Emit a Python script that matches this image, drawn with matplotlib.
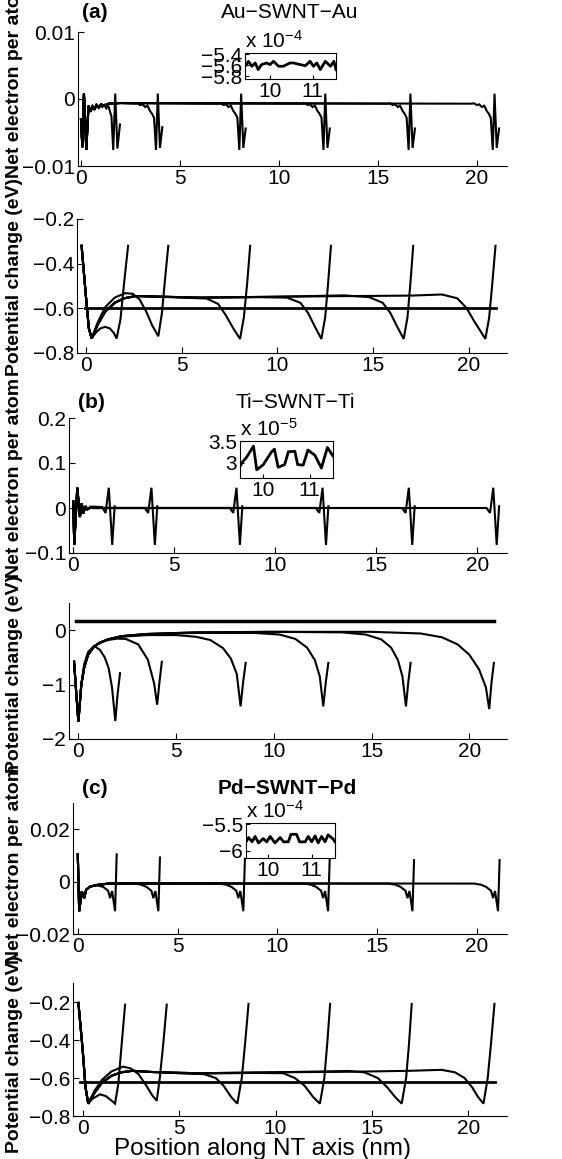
import matplotlib
matplotlib.use('Agg')
import matplotlib.pyplot as plt

plt.rcParams['font.family'] = ['Liberation Sans', 'DejaVu Sans']
plt.rcParams['mathtext.fontset'] = 'custom'
plt.rcParams['mathtext.rm'] = 'Liberation Sans'
plt.rcParams['mathtext.it'] = 'Liberation Sans'
plt.rcParams['axes.unicode_minus'] = True

# ---------------- DATA ----------------
XTICKS = [0, 5, 10, 15, 20]
XTICKLABELS = ['0', '5', '10', '15', '20']

# (a) Au net electron per atom (units 1e-3)
au_net_x = [
    [0.00,0.07,0.15,0.27,0.38,0.48,0.58,0.68,0.78,0.88,0.98,1.08,1.18,1.28,1.38,1.46,1.54,1.63,1.73,1.84,1.97],
    [0.00,0.07,0.15,0.27,0.38,0.48,0.58,0.68,0.78,0.90,1.02,1.15,1.40,2.00,2.69,2.84,2.99,3.11,3.24,3.36,3.49,3.59,3.69,3.79,3.88,3.99,4.11],
    [0.00,0.07,0.15,0.27,0.38,0.48,0.58,0.68,0.78,0.90,1.02,1.15,1.40,2.00,6.90,7.05,7.20,7.32,7.45,7.57,7.70,7.80,7.90,8.00,8.09,8.20,8.32],
    [0.00,0.07,0.15,0.27,0.38,0.48,0.58,0.68,0.78,0.90,1.02,1.15,1.40,2.00,11.15,11.30,11.45,11.57,11.70,11.82,11.95,12.05,12.15,12.25,12.34,12.45,12.57],
    [0.00,0.07,0.15,0.27,0.38,0.48,0.58,0.68,0.78,0.90,1.02,1.15,1.40,2.00,15.45,15.60,15.75,15.87,16.00,16.12,16.25,16.35,16.45,16.55,16.64,16.75,16.87],
    [0.00,0.07,0.15,0.27,0.38,0.48,0.58,0.68,0.78,0.90,1.02,1.15,1.40,2.00,19.70,19.85,20.00,20.12,20.25,20.37,20.50,20.60,20.70,20.80,20.89,21.00,21.12],
]
au_net_y = [
    [-3.0,-7.2,0.8,-7.6,-1.1,-1.7,-1.0,-1.4,-0.9,-1.2,-0.9,-1.2,-0.9,-1.4,-1.0,-1.8,-2.6,-7.6,0.8,-7.4,-3.8],
    [-3.0,-7.2,0.8,-7.6,-1.0,-1.9,-1.1,-1.6,-0.9,-1.3,-0.8,-1.0,-0.7,-0.6,-0.7,-0.65,-0.9,-0.8,-1.2,-1.0,-1.8,-2.2,-2.8,-7.6,0.8,-7.3,-4.2],
    [-3.0,-7.2,0.8,-7.6,-1.0,-1.9,-1.1,-1.6,-0.9,-1.3,-0.8,-1.0,-0.7,-0.6,-0.7,-0.65,-0.9,-0.8,-1.2,-1.0,-1.8,-2.2,-2.8,-7.6,0.8,-7.3,-4.4],
    [-3.0,-7.2,0.8,-7.6,-1.0,-1.9,-1.1,-1.6,-0.9,-1.3,-0.8,-1.0,-0.7,-0.6,-0.7,-0.65,-0.9,-0.8,-1.2,-1.0,-1.8,-2.2,-2.8,-7.6,0.8,-7.3,-4.4],
    [-3.0,-7.2,0.8,-7.6,-1.0,-1.9,-1.1,-1.6,-0.9,-1.3,-0.8,-1.0,-0.7,-0.6,-0.7,-0.65,-0.9,-0.8,-1.2,-1.0,-1.8,-2.2,-2.8,-7.6,0.8,-7.3,-4.4],
    [-3.0,-7.2,0.8,-7.6,-1.0,-1.9,-1.1,-1.6,-0.9,-1.3,-0.8,-1.0,-0.7,-0.6,-0.7,-0.65,-0.9,-0.8,-1.2,-1.0,-1.8,-2.2,-2.8,-7.6,0.8,-7.3,-4.4],
]
au_net_yticks = [-0.01, 0, 0.01]
au_net_yticklabels = ['\u22120.01', '0', '0.01']

# (a) Au potential change (eV)
au_pot_x = [
    [-0.23,0.0,0.15,0.3,0.5,0.75,1.0,1.25,1.45,1.6,1.8,2.0,2.2],
    [-0.23,0.0,0.15,0.3,0.6,1.0,1.5,2.05,2.45,2.8,3.15,3.45,3.78,3.97,4.13,4.3],
    [-0.23,0.0,0.15,0.3,0.6,1.0,1.5,2.0,2.6,3.5,5.0,6.3,6.9,7.3,7.7,8.05,8.25,8.42,8.58],
    [-0.23,0.0,0.15,0.3,0.6,1.0,1.5,2.0,2.6,3.5,6.0,9.0,10.5,11.2,11.6,11.95,12.3,12.5,12.65,12.8],
    [-0.23,0.0,0.15,0.3,0.6,1.0,1.5,2.0,2.6,3.5,6.0,10.0,13.5,14.8,15.5,15.9,16.25,16.6,16.8,16.95,17.1],
    [-0.23,0.0,0.15,0.3,0.6,1.0,1.5,2.0,2.6,3.5,6.0,10.0,14.0,17.0,18.6,19.4,19.9,20.3,20.6,20.87,21.07,21.23,21.4],
]
au_pot_y = [
    [-0.32,-0.55,-0.69,-0.735,-0.71,-0.69,-0.683,-0.69,-0.71,-0.735,-0.65,-0.48,-0.32],
    [-0.32,-0.55,-0.69,-0.735,-0.665,-0.595,-0.552,-0.532,-0.535,-0.56,-0.615,-0.675,-0.725,-0.62,-0.47,-0.32],
    [-0.32,-0.55,-0.69,-0.735,-0.675,-0.615,-0.575,-0.555,-0.545,-0.547,-0.552,-0.556,-0.58,-0.63,-0.69,-0.737,-0.64,-0.49,-0.32],
    [-0.32,-0.55,-0.69,-0.735,-0.675,-0.615,-0.575,-0.555,-0.545,-0.547,-0.552,-0.55,-0.552,-0.575,-0.62,-0.68,-0.737,-0.64,-0.49,-0.32],
    [-0.32,-0.55,-0.69,-0.735,-0.675,-0.615,-0.575,-0.555,-0.545,-0.547,-0.552,-0.548,-0.542,-0.55,-0.575,-0.62,-0.68,-0.737,-0.64,-0.49,-0.32],
    [-0.32,-0.55,-0.69,-0.735,-0.675,-0.615,-0.575,-0.555,-0.545,-0.547,-0.552,-0.548,-0.545,-0.543,-0.538,-0.555,-0.6,-0.66,-0.7,-0.737,-0.64,-0.49,-0.32],
]
au_ref_x = [-0.05, 21.4]
au_ref_y = [-0.6, -0.6]
au_pot_yticks = [-0.8, -0.6, -0.4, -0.2]
au_pot_yticklabels = ['\u22120.8', '\u22120.6', '\u22120.4', '\u22120.2']

# (b) Ti net electron per atom (units 1e-2)
ti_net_x = [
    [0.00,0.05,0.20,0.33,0.42,0.50,0.60,0.70,0.85,1.00,1.43,1.60,1.76,1.93,2.05],
    [0.00,0.05,0.20,0.33,0.42,0.50,0.60,0.70,0.85,1.00,3.54,3.71,3.87,4.04,4.16],
    [0.00,0.05,0.20,0.33,0.42,0.50,0.60,0.70,0.85,1.00,7.75,7.92,8.08,8.25,8.37],
    [0.00,0.05,0.20,0.33,0.42,0.50,0.60,0.70,0.85,1.00,12.01,12.18,12.34,12.51,12.63],
    [0.00,0.05,0.20,0.33,0.42,0.50,0.60,0.70,0.85,1.00,16.28,16.45,16.61,16.78,16.90],
    [0.00,0.05,0.20,0.33,0.42,0.50,0.60,0.70,0.85,1.00,20.46,20.63,20.79,20.96,21.08],
]
ti_net_y = [
    [1.5,-8.2,4.5,-2.0,1.0,-1.2,0.4,-0.3,0.3,0.3,0.2,-1.1,4.5,-8.2,0.4],
    [1.5,-8.2,4.5,-2.0,1.0,-1.2,0.4,-0.3,0.1,0.0,0.0,-1.1,4.5,-8.2,0.4],
    [1.5,-8.2,4.5,-2.0,1.0,-1.2,0.4,-0.3,0.1,0.0,0.0,-1.1,4.5,-8.2,0.4],
    [1.5,-8.2,4.5,-2.0,1.0,-1.2,0.4,-0.3,0.1,0.0,0.0,-1.1,4.5,-8.2,0.4],
    [1.5,-8.2,4.5,-2.0,1.0,-1.2,0.4,-0.3,0.1,0.0,0.0,-1.1,4.5,-8.2,0.4],
    [1.5,-8.2,4.5,-2.0,1.0,-1.2,0.4,-0.3,0.1,0.0,0.0,-1.1,4.5,-8.2,0.4],
]
ti_net_yticks = [-0.1, 0, 0.1, 0.2]
ti_net_yticklabels = ['\u22120.1', '0', '0.1', '0.2']

# (b) Ti potential change (eV)
ti_pot_x = [
    [-0.22,-0.1,0.0,0.15,0.3,0.5,0.8,1.1,1.35,1.55,1.72,1.89,2.0,2.13],
    [-0.22,-0.1,0.0,0.15,0.3,0.5,0.8,1.1,1.5,2.0,2.42,3.06,3.55,3.87,4.03,4.15,4.27],
    [-0.22,-0.1,0.0,0.15,0.3,0.5,0.8,1.1,1.5,2.2,3.5,5.0,6.0,6.75,7.4,7.8,8.1,8.3,8.43,8.56],
    [-0.22,-0.1,0.0,0.15,0.3,0.5,0.8,1.1,1.5,2.2,3.5,6.0,9.0,10.3,11.1,11.7,12.1,12.35,12.53,12.66,12.79],
    [-0.22,-0.1,0.0,0.15,0.3,0.5,0.8,1.1,1.5,2.2,3.5,6.0,10.0,13.5,14.7,15.5,16.0,16.35,16.58,16.76,16.88,17.0],
    [-0.22,-0.1,0.0,0.15,0.3,0.5,0.8,1.1,1.5,2.2,3.5,6.0,10.0,15.0,17.5,18.6,19.4,20.0,20.5,20.85,21.02,21.14,21.26],
]
ti_pot_y = [
    [-0.58,-1.2,-1.68,-1.0,-0.62,-0.4,-0.29,-0.36,-0.5,-0.7,-1.05,-1.67,-1.2,-0.79],
    [-0.58,-1.2,-1.68,-1.0,-0.68,-0.45,-0.3,-0.23,-0.18,-0.155,-0.16,-0.26,-0.54,-0.97,-1.37,-0.95,-0.58],
    [-0.58,-1.2,-1.68,-1.0,-0.68,-0.45,-0.3,-0.23,-0.17,-0.12,-0.09,-0.09,-0.12,-0.18,-0.33,-0.52,-0.8,-1.4,-0.95,-0.6],
    [-0.58,-1.2,-1.68,-1.0,-0.68,-0.45,-0.3,-0.23,-0.17,-0.11,-0.07,-0.05,-0.05,-0.08,-0.16,-0.32,-0.55,-0.85,-1.4,-0.95,-0.6],
    [-0.58,-1.2,-1.68,-1.0,-0.68,-0.45,-0.3,-0.23,-0.17,-0.11,-0.07,-0.04,-0.03,-0.04,-0.08,-0.17,-0.32,-0.55,-0.85,-1.4,-0.95,-0.6],
    [-0.58,-1.2,-1.68,-1.0,-0.68,-0.45,-0.3,-0.23,-0.17,-0.11,-0.07,-0.04,-0.03,-0.03,-0.06,-0.13,-0.26,-0.45,-0.72,-1.05,-1.45,-0.95,-0.6],
]
ti_ref_x = [-0.12, 21.26]
ti_ref_y = [0.17, 0.17]
ti_pot_yticks = [-2, -1, 0]
ti_pot_yticklabels = ['\u22122', '\u22121', '0']

# (c) Pd net electron per atom (units 1e-3)
pd_net_x = [
    [0.00,0.07,0.20,0.32,0.42,0.62,0.95,1.27,1.52,1.62,1.72,1.87,1.95],
    [0.00,0.07,0.20,0.32,0.42,0.62,0.95,1.60,2.84,3.19,3.44,3.69,3.79,3.89,4.04,4.12],
    [0.00,0.07,0.20,0.32,0.42,0.62,0.95,1.60,7.10,7.45,7.70,7.95,8.05,8.15,8.30,8.38],
    [0.00,0.07,0.20,0.32,0.42,0.62,0.95,1.60,11.35,11.70,11.95,12.20,12.30,12.40,12.55,12.63],
    [0.00,0.07,0.20,0.32,0.42,0.62,0.95,1.60,15.58,15.93,16.18,16.43,16.53,16.63,16.78,16.86],
    [0.00,0.07,0.20,0.32,0.42,0.62,0.95,1.60,19.87,20.22,20.47,20.72,20.82,20.92,21.07,21.15],
]
pd_net_y = [
    [10.4,-11.3,-3.8,-6.3,-3.1,-1.9,-1.4,-2.0,-3.5,-6.3,-3.6,-11.3,10.4],
    [10.4,-11.3,-3.8,-6.3,-3.1,-1.9,-1.3,-0.7,-0.75,-1.2,-2.0,-3.5,-6.3,-3.6,-11.3,9.2],
    [10.4,-11.3,-3.8,-6.3,-3.1,-1.9,-1.3,-0.7,-0.75,-1.2,-2.0,-3.5,-6.3,-3.6,-11.3,8.7],
    [10.4,-11.3,-3.8,-6.3,-3.1,-1.9,-1.3,-0.7,-0.75,-1.2,-2.0,-3.5,-6.3,-3.6,-11.3,8.5],
    [10.4,-11.3,-3.8,-6.3,-3.1,-1.9,-1.3,-0.7,-0.75,-1.2,-2.0,-3.5,-6.3,-3.6,-11.3,8.2],
    [10.4,-11.3,-3.8,-6.3,-3.1,-1.9,-1.3,-0.7,-0.75,-1.2,-2.0,-3.5,-6.3,-3.6,-11.3,8.2],
]
pd_net_yticks = [-0.02, 0, 0.02]
pd_net_yticklabels = ['\u22120.02', '0', '0.02']

# (c) Pd potential change (eV)
pd_pot_x = [
    [-0.22,0.0,0.15,0.29,0.5,0.9,1.2,1.45,1.68,1.85,2.0,2.2],
    [-0.22,0.0,0.15,0.29,0.6,1.0,1.5,2.1,2.5,2.9,3.3,3.6,3.84,4.0,4.18,4.36],
    [-0.22,0.0,0.15,0.29,0.6,1.0,1.5,2.0,2.6,3.5,5.0,6.3,6.9,7.3,7.7,8.02,8.25,8.42,8.6],
    [-0.22,0.0,0.15,0.29,0.6,1.0,1.5,2.0,2.6,3.5,6.0,9.0,10.4,11.0,11.5,11.95,12.3,12.53,12.68,12.83],
    [-0.22,0.0,0.15,0.29,0.6,1.0,1.5,2.0,2.6,3.5,6.0,10.0,13.8,14.6,15.3,15.8,16.2,16.54,16.77,16.92,17.06],
    [-0.22,0.0,0.15,0.29,0.6,1.0,1.5,2.0,2.6,3.5,6.0,10.0,14.0,17.0,18.6,19.3,19.8,20.2,20.5,20.78,21.0,21.17,21.35],
]
pd_pot_y = [
    [-0.205,-0.45,-0.65,-0.735,-0.71,-0.686,-0.695,-0.715,-0.735,-0.63,-0.45,-0.214],
    [-0.205,-0.45,-0.65,-0.735,-0.67,-0.61,-0.565,-0.54,-0.55,-0.58,-0.64,-0.69,-0.72,-0.6,-0.42,-0.214],
    [-0.205,-0.45,-0.65,-0.735,-0.68,-0.625,-0.588,-0.57,-0.562,-0.568,-0.575,-0.58,-0.6,-0.64,-0.7,-0.735,-0.6,-0.42,-0.21],
    [-0.205,-0.45,-0.65,-0.735,-0.68,-0.625,-0.588,-0.57,-0.562,-0.568,-0.577,-0.573,-0.575,-0.6,-0.64,-0.7,-0.735,-0.6,-0.42,-0.21],
    [-0.205,-0.45,-0.65,-0.735,-0.68,-0.625,-0.588,-0.57,-0.562,-0.568,-0.575,-0.57,-0.563,-0.57,-0.6,-0.65,-0.7,-0.735,-0.6,-0.42,-0.21],
    [-0.205,-0.45,-0.65,-0.735,-0.68,-0.625,-0.588,-0.57,-0.562,-0.568,-0.575,-0.57,-0.567,-0.562,-0.557,-0.57,-0.6,-0.65,-0.7,-0.735,-0.6,-0.42,-0.21],
]
pd_ref_x = [-0.14, 21.38]
pd_ref_y = [-0.62, -0.62]
pd_pot_yticks = [-0.8, -0.6, -0.4, -0.2]
pd_pot_yticklabels = ['\u22120.8', '\u22120.6', '\u22120.4', '\u22120.2']

# insets (net electron per atom, zoomed; y in units of the exponent shown)
ins_a_x = [9.41,9.49,9.57,9.65,9.72,9.80,9.92,10.0,10.08,10.2,10.31,10.47,10.55,10.71,10.83,10.94,11.02,11.1,11.18,11.3,11.42,11.5,11.55]
ins_a_y = [-5.62,-5.53,-5.62,-5.56,-5.68,-5.59,-5.56,-5.59,-5.53,-5.62,-5.62,-5.56,-5.56,-5.59,-5.61,-5.53,-5.62,-5.56,-5.68,-5.53,-5.62,-5.53,-5.68]
ins_a_yticks = [-5.8, -5.6, -5.4]
ins_a_yticklabels = ['\u22125.8', '\u22125.6', '\u22125.4']
ins_b_x = [9.5,9.56,9.64,9.79,9.86,10.0,10.18,10.24,10.32,10.46,10.54,10.68,10.74,10.86,10.96,11.11,11.25,11.38,11.5]
ins_b_y = [2.91,3.02,3.12,3.38,2.83,2.95,3.25,3.31,2.89,2.95,3.25,3.26,2.95,2.94,3.29,3.17,2.87,3.35,3.15]
ins_b_yticks = [3.0, 3.5]
ins_b_yticklabels = ['3', '3.5']
ins_c_x = [9.48,9.54,9.62,9.69,9.77,9.88,9.96,10.04,10.15,10.27,10.35,10.46,10.52,10.65,10.72,10.85,10.92,11.0,11.08,11.15,11.23,11.31,11.38,11.5,11.54]
ins_c_y = [-5.83,-5.75,-5.83,-5.73,-5.85,-5.77,-5.83,-5.73,-5.85,-5.75,-5.83,-5.83,-5.69,-5.69,-5.83,-5.83,-5.73,-5.83,-5.72,-5.85,-5.73,-5.83,-5.70,-5.78,-5.83]
ins_c_yticks = [-6.0, -5.5]
ins_c_yticklabels = ['\u22126', '\u22125.5']
INS_XTICKS = [10, 11]
INS_XTICKLABELS = ['10', '11']

# ---------------- LAYOUT ----------------
W, H = 562.0, 1159.0
fig = plt.figure(figsize=(W / 100, H / 100), dpi=100)

def frac(l, t, r, b):
    return [l / W, 1 - b / H, (r - l) / W, (b - t) / H]

FS = 15
LW = 1.5

def main_axes(box, xlim, ylim, yticks, yticklabels):
    ax = fig.add_axes(frac(*box))
    ax.set_xlim(*xlim)
    ax.set_ylim(*ylim)
    ax.spines['top'].set_visible(False)
    ax.spines['right'].set_visible(False)
    for s in ('left', 'bottom'):
        ax.spines[s].set_linewidth(0.8)
    ax.set_xticks(XTICKS)
    ax.set_xticklabels(XTICKLABELS)
    ax.set_yticks(yticks)
    ax.set_yticklabels(yticklabels)
    ax.tick_params(direction='in', length=4, width=0.8, labelsize=FS, pad=2)
    ax.patch.set_alpha(0)
    return ax

def draw_curves(ax, xs, ys, scale=1.0):
    for x, y in zip(xs, ys):
        ax.plot(x, [v * scale for v in y], color='black', lw=LW, solid_joinstyle='miter')

def inset(box, x, y, xlim, ylim, yticks, yticklabels, expo):
    ax = fig.add_axes(frac(*box))
    ax.set_facecolor('white')
    ax.plot(x, y, color='black', lw=2.0)
    ax.set_xlim(*xlim)
    ax.set_ylim(*ylim)
    ax.set_xticks(INS_XTICKS)
    ax.set_xticklabels(INS_XTICKLABELS)
    ax.set_yticks(yticks)
    ax.set_yticklabels(yticklabels)
    for s in ax.spines.values():
        s.set_linewidth(0.8)
    ax.tick_params(direction='in', length=3, width=0.8, labelsize=FS, pad=2)
    fig.text(box[0] / W, 1 - (box[1] - 1) / H, 'x 10$^{%s}$' % expo,
             ha='left', va='bottom', fontsize=FS)
    return ax

# Panel (a) top
ax1 = main_axes((78, 32, 507, 166), (-0.15, 21.52), (-0.01, 0.01), au_net_yticks, au_net_yticklabels)
draw_curves(ax1, au_net_x, au_net_y, 1e-3)
# Panel (a) bottom
ax2 = main_axes((77, 219, 507, 353), (-0.47, 22.0), (-0.8, -0.2), au_pot_yticks, au_pot_yticklabels)
draw_curves(ax2, au_pot_x, au_pot_y)
ax2.plot(au_ref_x, au_ref_y, color='black', lw=2.0)
# Panel (b) top
ax3 = main_axes((69, 418, 507, 553), (-0.21, 21.47), (-0.1, 0.2), ti_net_yticks, ti_net_yticklabels)
draw_curves(ax3, ti_net_x, ti_net_y, 1e-2)
# Panel (b) bottom
ax4 = main_axes((69, 603, 507, 739), (-0.48, 21.93), (-2.0, 0.5), ti_pot_yticks, ti_pot_yticklabels)
draw_curves(ax4, ti_pot_x, ti_pot_y)
ax4.plot(ti_ref_x, ti_ref_y, color='black', lw=2.5)
# Panel (c) top
ax5 = main_axes((73, 803, 507, 934), (-0.24, 21.52), (-0.02, 0.03), pd_net_yticks, pd_net_yticklabels)
draw_curves(ax5, pd_net_x, pd_net_y, 1e-3)
# Panel (c) bottom
ax6 = main_axes((73, 983, 507, 1116), (-0.5, 22.0), (-0.8, -0.1), pd_pot_yticks, pd_pot_yticklabels)
draw_curves(ax6, pd_pot_x, pd_pot_y)
ax6.plot(pd_ref_x, pd_ref_y, color='black', lw=2.0)

# insets
inset((245, 53, 336, 79), ins_a_x, ins_a_y, (9.41, 11.55), (-5.85, -5.38),
      ins_a_yticks, ins_a_yticklabels, '-4')
inset((240, 441, 333, 478), ins_b_x, ins_b_y, (9.5, 11.5), (2.64, 3.5),
      ins_b_yticks, ins_b_yticklabels, '-5')
inset((246, 823, 335, 858), ins_c_x, ins_c_y, (9.48, 11.54), (-6.13, -5.48),
      ins_c_yticks, ins_c_yticklabels, '-4')

# titles / panel letters
def ftext(x, y, s, **kw):
    fig.text(x / W, 1 - y / H, s, **kw)

ftext(82, 13, '(a)', ha='left', va='center', fontsize=FS, fontweight='bold')
ftext(290, 13, 'Au\u2212SWNT\u2212Au', ha='center', va='center', fontsize=FS)
ftext(78, 403, '(b)', ha='left', va='center', fontsize=FS, fontweight='bold')
ftext(295, 403, 'Ti\u2212SWNT\u2212Ti', ha='center', va='center', fontsize=FS)
ftext(82, 789, '(c)', ha='left', va='center', fontsize=FS, fontweight='bold')
ftext(287, 789, 'Pd\u2212SWNT\u2212Pd', ha='center', va='center', fontsize=FS, fontweight='bold')

# y labels (one column at the left edge, as in the reference)
YL = dict(rotation=90, ha='center', va='center', fontsize=14, fontweight='bold')
ftext(15, 78, 'Net electron per atom', **YL)
ftext(15, 277, 'Potential change (eV)', **YL)
ftext(15, 478, 'Net electron per atom', **YL)
ftext(15, 674, 'Potential change (eV)', **YL)
ftext(15, 864, 'Net electron per atom', **YL)
ftext(15, 1054, 'Potential change (eV)', **YL)

# x label
ftext(262, 1149, 'Position along NT axis (nm)', ha='center', va='center', fontsize=17.5)

fig.savefig('out.png', dpi=100)
